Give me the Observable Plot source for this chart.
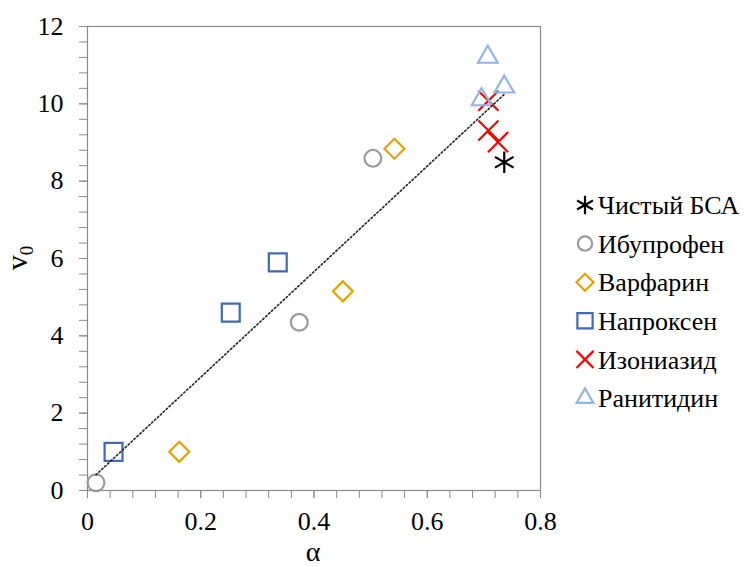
<!DOCTYPE html>
<html><head><meta charset="utf-8">
<script src="https://cdn.jsdelivr.net/npm/d3@7"></script>
<script src="https://cdn.jsdelivr.net/npm/@observablehq/plot@0.6"></script>
<style>
body{margin:0;background:#fff}
svg.chart, svg.chart text, svg.chart tspan { font-family: "Liberation Serif", "Times New Roman", Times, "DejaVu Serif", serif !important; }
</style>
</head><body><div id="chart"></div>
<script>
// ---- data ----
const series = ["Чистый БСА", "Ибупрофен", "Варфарин", "Напроксен", "Изониазид", "Ранитидин"];
const alphaBSA = [0.736];               const v0BSA = [8.49];
const alphaIbuprofen = [0.015, 0.374, 0.504]; const v0Ibuprofen = [0.20, 4.35, 8.59];
const alphaWarfarin  = [0.162, 0.451, 0.542]; const v0Warfarin  = [1.00, 5.15, 8.84];
const alphaNaproxen  = [0.046, 0.253, 0.336]; const v0Naproxen  = [1.00, 4.60, 5.90];
const alphaIsoniazid = [0.708, 0.708, 0.725]; const v0Isoniazid = [10.08, 9.31, 9.01];
const alphaRanitidine = [0.696, 0.707, 0.736]; const v0Ranitidine = [10.11, 11.21, 10.44];
const xTicks = [0, 0.2, 0.4, 0.6, 0.8];
const yTicks = [0, 2, 4, 6, 8, 10, 12];
const xLabel = "α";
const yLabelMain = "v", yLabelSub = "0";

// ---- styles ----
const symbols = ["asterisk", "circle", "diamond2", "square2", "times", "triangle2"];
const d3symbols = [d3.symbolAsterisk, d3.symbolCircle, d3.symbolDiamond2, d3.symbolSquare2, d3.symbolTimes, d3.symbolTriangle2];
const colors = ["#000000", "#9a9a9a", "#e2a400", "#4169b8", "#ff0000", "#92b5e2"];
const radii = [10.2, 8.4, 9.0, 11.4, 9.2, 9.4];

const alphas = [alphaBSA, alphaIbuprofen, alphaWarfarin, alphaNaproxen, alphaIsoniazid, alphaRanitidine];
const v0s = [v0BSA, v0Ibuprofen, v0Warfarin, v0Naproxen, v0Isoniazid, v0Ranitidine];
const tables = series.map((s, i) => alphas[i].map((a, j) => ({series: s, alpha: a, v0: v0s[i][j]})));
const all = tables.flat();

const xMinor = d3.range(0, 21).map(i => i * 0.04);
const yMinor = d3.range(0, 31).map(i => i * 0.4);
const axisGray = "#8a8a8a";
const serifFont = "'Liberation Serif', 'Times New Roman', Times, 'DejaVu Serif', serif";

const plot = Plot.plot({
  className: "chart",
  width: 751, height: 567,
  marginLeft: 87, marginRight: 211, marginTop: 26, marginBottom: 77,
  style: {fontFamily: serifFont, fontSize: "26px", background: "#fff"},
  x: {domain: [0, 0.8]},
  y: {domain: [0, 12]},
  marks: [
    Plot.axisX({ticks: xMinor, tickSize: 8, tickFormat: () => "", stroke: axisGray, label: null}),
    Plot.axisY({ticks: yMinor, tickSize: 8, tickFormat: () => "", stroke: axisGray, label: null}),
    Plot.axisX({ticks: xTicks, tickSize: 8, tickPadding: 13, tickFormat: d => String(d), stroke: axisGray, fill: "#000", label: null, fontFamily: serifFont}),
    Plot.axisY({ticks: yTicks, tickSize: 8, tickPadding: 16, tickFormat: d => String(d), stroke: axisGray, fill: "#000", label: null, fontFamily: serifFont}),
    Plot.frame({stroke: axisGray, strokeWidth: 1.2}),
    ...tables.map((t, i) => Plot.dot(t, {x: "alpha", y: "v0", symbol: () => symbols[i], r: radii[i], stroke: colors[i], fill: "none", strokeWidth: 2.2})),
    Plot.linearRegressionY(all, {x: "alpha", y: "v0", ci: 0, stroke: "#222", strokeWidth: 1.6, strokeDasharray: "1.6 2.4"})
  ]
});
document.getElementById("chart").append(plot);

// axis titles
const svg = d3.select(plot);
svg.append("text").attr("x", 313).attr("y", 561).attr("text-anchor", "middle")
  .style("font-family", serifFont).style("font-size", "28px").attr("fill", "#000").text(xLabel);
const yl = svg.append("text").attr("transform", "translate(27,258) rotate(-90)").attr("text-anchor", "middle")
  .style("font-family", serifFont).style("font-size", "30px").attr("fill", "#000");
yl.append("tspan").text(yLabelMain);
yl.append("tspan").style("font-size", "19px").attr("dy", 6).text(yLabelSub);

// legend
const lg = svg.append("g").attr("transform", "translate(585,205)");
series.forEach((s, i) => {
  const row = lg.append("g").attr("transform", `translate(0,${i * 38.6})`);
  row.append("path").attr("d", d3.symbol(d3symbols[i], Math.PI * Math.pow(radii[i] * 0.85, 2))())
    .attr("fill", "none").attr("stroke", colors[i]).attr("stroke-width", 2.2);
  row.append("text").attr("x", 13).attr("dy", "0.35em").attr("text-anchor", "start")
    .style("font-family", serifFont).style("font-size", "26px").attr("fill", "#000").text(s);
});
</script></body></html>
